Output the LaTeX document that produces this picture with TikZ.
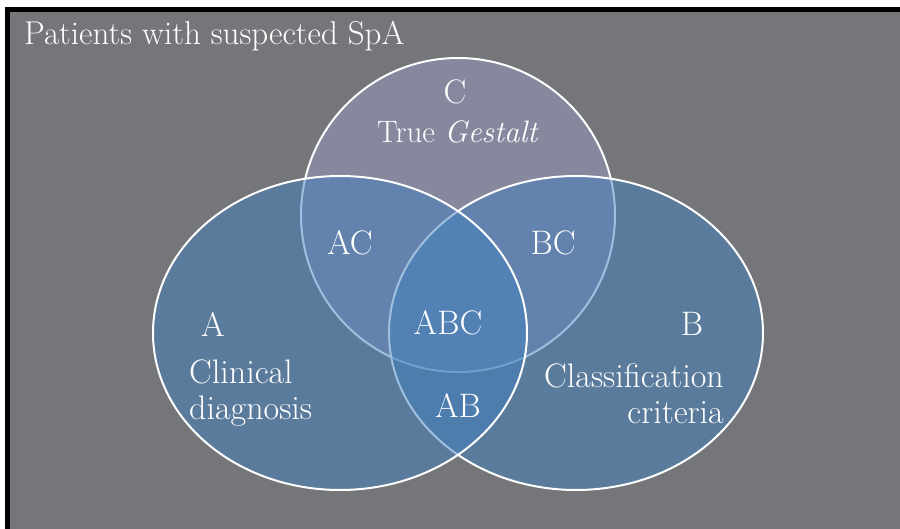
\documentclass[tikz,border=0pt]{standalone}
\usepackage{fontspec}
\setmainfont{Latin Modern Roman}
\usetikzlibrary{positioning}
\definecolor{bggrey}{RGB}{116,118,121}
\definecolor{vennblue}{RGB}{66,128,190}
\definecolor{venngrey}{RGB}{150,152,190}
\tikzset{
  setshape/.style={draw=white, line width=2pt, fill opacity=0.5, draw opacity=1},
  lbl/.style={text=white, font=\fontsize{34}{36}\selectfont, inner sep=0pt},
  titlelbl/.style={text=white, font=\fontsize{33}{36}\selectfont, inner sep=0pt},
}
\begin{document}
\begin{tikzpicture}[x=1pt,y=-1pt]
\useasboundingbox (0,0) rectangle (900,529);
\fill[white] (0,0) rectangle (900,529);
\fill[black] (5,7) rectangle (900,529);
\fill[bggrey] (10,12) rectangle (900,529);
% sets: C bottom, B, A on top
\draw[setshape, fill=venngrey, fill opacity=0.55] (458,215) ellipse [x radius=157, y radius=157];
\draw[setshape, fill=vennblue] (576,333) ellipse [x radius=187, y radius=157];
\draw[setshape, fill=vennblue] (340,333) ellipse [x radius=187, y radius=157];
% labels
\node[titlelbl, anchor=base west] (title) at (24,45) {Patients with suspected SpA};
\node[lbl] (c) at (455,92) {C};
\node[lbl, font=\fontsize{31}{36}\selectfont] (ctext) at (458,132) {True \textit{Gestalt}};
\node[lbl] (ac) at (350,243) {AC};
\node[lbl] (bc) at (553,243) {BC};
\node[lbl] (abc) at (448,323) {ABC};
\node[lbl] (ab) at (458,405) {AB};
\node[lbl] (a) at (213,324) {A};
\node[lbl] (b) at (692,324) {B};
\node[lbl, anchor=west, align=left] (atext) at (189,393) {Clinical\\diagnosis};
\node[lbl, anchor=east, align=right] (btext) at (724,394) {Classification\\criteria};
\end{tikzpicture}
\end{document}
